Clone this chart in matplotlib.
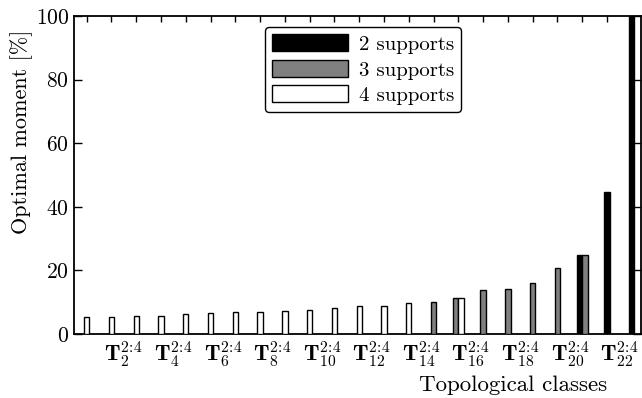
import matplotlib
matplotlib.use("Agg")
import matplotlib.pyplot as plt
import numpy as np
from matplotlib.patches import Patch

plt.rcParams['font.family'] = 'serif'
plt.rcParams['font.serif'] = ['cmr10']
plt.rcParams['mathtext.fontset'] = 'cm'
plt.rcParams['axes.unicode_minus'] = False
plt.rcParams['axes.formatter.use_mathtext'] = True

# classes T_1 .. T_23 ; optimal moment [%] per number of supports (0 = none)
classes = np.arange(1, 24)
two_supports = [0, 0, 0, 0, 0, 0, 0, 0, 0, 0, 0, 0, 0, 0, 0, 0, 0, 0, 0, 0, 25.0, 44.5, 100.0]
three_supports = [0, 0, 0, 0, 0, 0, 0, 0, 0, 0, 0, 0, 0, 0, 10.2, 11.3, 13.7, 14.3, 16.0, 20.6, 25.0, 0, 0]
four_supports = [5.2, 5.5, 5.6, 5.8, 6.3, 6.6, 6.8, 7.0, 7.3, 7.5, 8.2, 8.7, 8.9, 9.8, 0, 11.3, 0, 0, 0, 0, 0, 0, 0]
tick_labels = [r'$\mathbf{T}_{%d}^{2\!:\!4}$' % k for k in range(2, 23, 2)]

fig = plt.figure(figsize=(6.42, 3.98), dpi=100)
ax = fig.add_axes([0.1153, 0.1608, 0.8831, 0.799])

w = 0.215
series = [(two_supports, 'black'), (three_supports, '#808080'), (four_supports, 'white')]
for i, x in enumerate(classes):
    present = [(s[i], c) for s, c in series if s[i] > 0]
    n = len(present)
    for j, (v, c) in enumerate(present):
        off = (j - (n - 1) / 2.0) * w
        ax.bar(x + off, v, width=w, color=c, edgecolor='black', linewidth=1.0, zorder=3)

ax.set_xlim(0.49, 23.37)
ax.set_ylim(0, 100)
ax.set_xticks(np.arange(2.5, 23, 2))
ax.set_xticklabels(tick_labels, fontsize=16)
ax.set_xticks(classes, minor=True)
ax.tick_params(axis='x', which='major', length=0, pad=4)
ax.tick_params(axis='x', which='minor', direction='in', length=4, width=1.0, top=True, bottom=True)
ax.set_yticks([0, 20, 40, 60, 80, 100])
ax.tick_params(axis='y', direction='in', length=6, width=1.0, left=True, right=True, labelsize=15.5)
for s in ax.spines.values():
    s.set_linewidth(1.3)

ax.set_ylabel('Optimal moment [%]', fontsize=16)
ax.yaxis.set_label_coords(-0.072, 0.637)
ax.set_xlabel('Topological classes', fontsize=16.5)
ax.xaxis.set_label_coords(0.774, -0.129)

handles = [Patch(facecolor='black', edgecolor='black', label='2 supports'),
           Patch(facecolor='#808080', edgecolor='black', label='3 supports'),
           Patch(facecolor='white', edgecolor='black', label='4 supports')]
leg = ax.legend(handles=handles, loc='upper center', bbox_to_anchor=(0.51, 0.965),
                fontsize=15, handlelength=3.65, handleheight=0.87, labelspacing=0.28,
                fancybox=True, framealpha=1, edgecolor='black', borderpad=0.35,
                handletextpad=0.5, borderaxespad=0)
leg.get_frame().set_linewidth(1.0)

fig.savefig('out.png', dpi=100)
